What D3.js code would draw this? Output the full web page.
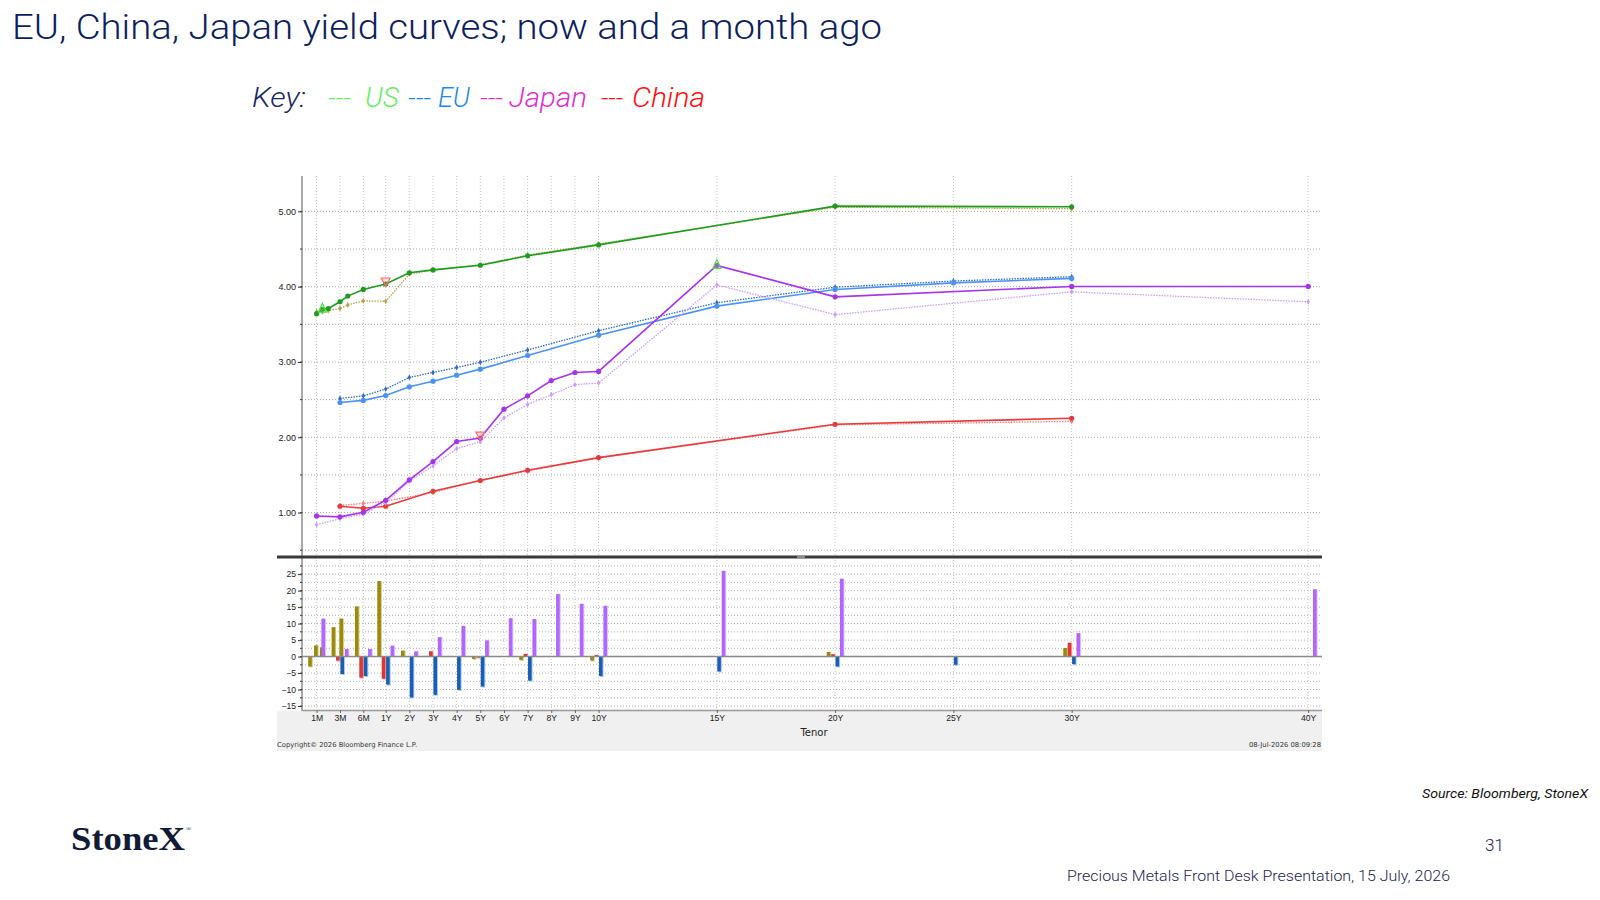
<!DOCTYPE html>
<html>
<head>
<meta charset="utf-8">
<script src="https://cdnjs.cloudflare.com/ajax/libs/d3/7.8.5/d3.min.js"></script>
<style>
body { margin: 0; background: #fff; }
svg { display: block; }
</style>
</head>
<body>
<script>
//tenor labels and yields (now / a month ago), change in bp
var usTenors = ["1M","1.5M","2M","3M","4M","6M","1Y","2Y","3Y","5Y","7Y","10Y","20Y","30Y"];
var usNow = [3.64,3.70,3.71,3.80,3.875,3.963,4.036,4.185,4.223,4.285,4.41,4.555,5.07,5.061];
var usAgo = [3.67,3.666,3.682,3.711,3.758,3.811,3.806,4.167,4.221,4.291,4.42,4.567,5.056,5.035];
var usChg = [-3,3.4,2.8,8.9,11.5,15.2,22.9,1.8,0.2,-0.7,-1.0,-1.2,1.4,2.6];

var euTenors = ["3M","6M","1Y","2Y","3Y","4Y","5Y","7Y","10Y","15Y","20Y","25Y","30Y"];
var euNow = [2.462,2.49,2.555,2.67,2.745,2.825,2.905,3.086,3.356,3.742,3.963,4.05,4.11];
var euAgo = [2.515,2.55,2.64,2.795,2.861,2.926,2.996,3.159,3.415,3.787,3.993,4.075,4.133];
var euChg = [-5.3,-5.9,-8.5,-12.4,-11.6,-10.1,-9.1,-7.3,-5.9,-4.5,-3.0,-2.5,-2.3];

var jpTenors = ["1M","3M","6M","1Y","2Y","3Y","4Y","5Y","6Y","7Y","8Y","9Y","10Y","15Y","20Y","30Y","40Y"];
var jpNow = [0.955,0.943,1.004,1.163,1.434,1.678,1.943,1.99,2.373,2.55,2.754,2.86,2.874,4.283,3.865,4.003,4.003];
var jpAgo = [0.838,0.92,0.981,1.13,1.418,1.619,1.849,1.941,2.257,2.436,2.564,2.70,2.72,4.023,3.629,3.932,3.799];
var jpChg = [11.5,2.3,2.3,3.3,1.6,5.9,9.3,4.9,11.6,11.4,19.0,16.0,15.4,26.0,23.6,7.1,20.4];

var cnTenors = ["3M","6M","1Y","3Y","5Y","7Y","10Y","20Y","30Y"];
var cnNow = [1.084,1.057,1.084,1.283,1.425,1.562,1.73,2.173,2.253];
var cnAgo = [1.096,1.121,1.151,1.267,1.428,1.554,1.725,2.166,2.211];
var cnChg = [-1.2,-6.4,-6.7,1.6,-0.3,0.8,0.5,0.7,4.2];

//axis ticks
var tenorTicks = ["1M","3M","6M","1Y","2Y","3Y","4Y","5Y","6Y","7Y","8Y","9Y","10Y","15Y","20Y","25Y","30Y","40Y"];
var yieldTicks = [1, 2, 3, 4, 5];
var chgTicks = [-15, -10, -5, 0, 5, 10, 15, 20, 25];

//bloomberg highlight markers
var flags = [
    {series: "US", tenor: "1.5M", dir: "up"},
    {series: "US", tenor: "1Y", dir: "down"},
    {series: "Japan", tenor: "5Y", dir: "down"},
    {series: "Japan", tenor: "15Y", dir: "up"}
];

var navy = "#0d1f5c";

var svg = d3.select("body")
    .append("svg")
    .attr("width", 1600)
    .attr("height", 900);

//years from a tenor label
function years(t) {
    var n = parseFloat(t);
    return t.slice(-1) === "M" ? n / 12 : n;
}

//front end spaced evenly, then linear in years
var x = d3.scaleLinear()
    .domain([1/12, 0.25, 0.5, 1, 40])
    .range([316.6, 340, 363.3, 385.7, 1308.2]);

var y = d3.scaleLinear().domain([0.41, 5.47]).range([557, 176]);
var yc = d3.scaleLinear().domain([-16.2, 30.2]).range([710, 557]);

var left = 302, right = 1322;

var series = [
    {name: "US", tenors: usTenors, now: usNow, ago: usAgo, chg: usChg,
     cNow: "#1f9c1f", cAgo: "#b3a246", bar: "#9a8a0c", barHi: "#d6cf8c", off: -6.6},
    {name: "China", tenors: cnTenors, now: cnNow, ago: cnAgo, chg: cnChg,
     cNow: "#e63b3b", cAgo: "#f27c7c", bar: "#e03535", barHi: "#f5a5a5", off: -2.2},
    {name: "EU", tenors: euTenors, now: euNow, ago: euAgo, chg: euChg,
     cNow: "#4b93f3", cAgo: "#2d6cc2", bar: "#1a5eb2", barHi: "#a9c9f0", off: 2.2},
    {name: "Japan", tenors: jpTenors, now: jpNow, ago: jpAgo, chg: jpChg,
     cNow: "#a733ea", cAgo: "#cb9cff", bar: "#b266fb", barHi: "#dcc2ff", off: 6.6}
];

//slide title and key
svg.append("text")
    .attr("x", 12).attr("y", 39)
    .attr("textLength", 870).attr("lengthAdjust", "spacingAndGlyphs")
    .style("font-family", "Roboto, sans-serif").style("font-size", "35px")
    .style("font-weight", 300)
    .style("fill", navy)
    .text("EU, China, Japan yield curves; now and a month ago");

var keyItems = [
    {t: "Key:", x: 252, w: 54, c: "#1b2a62"},
    {t: "---", x: 328, w: 23, c: "#66ee66"},
    {t: "US", x: 365, w: 34, c: "#66ee66"},
    {t: "---", x: 408, w: 23, c: "#1e88f0"},
    {t: "EU", x: 438, w: 32, c: "#1e88f0"},
    {t: "---", x: 480, w: 23, c: "#e030d0"},
    {t: "Japan", x: 509, w: 78, c: "#e030d0"},
    {t: "---", x: 601, w: 22, c: "#ff1010"},
    {t: "China", x: 632, w: 73, c: "#ff1010"}
];
svg.selectAll(".key")
    .data(keyItems)
    .enter()
    .append("text")
    .attr("class", "key")
    .attr("x", function(d) { return d.x; })
    .attr("y", 107)
    .attr("textLength", function(d) { return d.w; })
    .attr("lengthAdjust", "spacingAndGlyphs")
    .style("font-family", "Roboto, sans-serif").style("font-size", "28px")
    .style("font-style", "italic").style("font-weight", 300)
    .style("fill", function(d) { return d.c; })
    .text(function(d) { return d.t; });

//chart frame
var chart = svg.append("g").style("font-family", "'DejaVu Sans', sans-serif");

chart.append("rect")
    .attr("x", 277).attr("y", 711).attr("width", right - 277).attr("height", 40)
    .attr("fill", "#f0f0f0");

//vertical grid at tenor ticks
chart.selectAll(".vgrid")
    .data(tenorTicks)
    .enter()
    .append("line")
    .attr("x1", function(d) { return x(years(d)); })
    .attr("x2", function(d) { return x(years(d)); })
    .attr("y1", 176).attr("y2", 710)
    .attr("stroke", "#c4c4c4").attr("stroke-width", 1)
    .attr("stroke-dasharray", "1,2");

//horizontal grid, top and bottom panels
chart.selectAll(".hgrid")
    .data(d3.range(0.5, 5.01, 0.5))
    .enter()
    .append("line")
    .attr("x1", left).attr("x2", right)
    .attr("y1", function(d) { return y(d); })
    .attr("y2", function(d) { return y(d); })
    .attr("stroke", "#a8a8a8").attr("stroke-dasharray", "1,2");

chart.selectAll(".cgrid")
    .data(d3.range(-15, 27.6, 2.5))
    .enter()
    .append("line")
    .attr("x1", left).attr("x2", right)
    .attr("y1", function(d) { return yc(d); })
    .attr("y2", function(d) { return yc(d); })
    .attr("stroke", "#b0b0b0").attr("stroke-dasharray", "1,2");

//axes
var yAxis = chart.append("g")
    .attr("transform", "translate(" + left + ",0)")
    .call(d3.axisLeft(y).tickValues(yieldTicks).tickFormat(d3.format(".2f")).tickSize(4).tickPadding(2));
yAxis.select(".domain").remove();
yAxis.selectAll("line").attr("stroke", "#333");
yAxis.selectAll("text").style("font-size", "9px").style("fill", "#222");

chart.selectAll(".ytickm")
    .data(d3.range(0.5, 5.01, 0.5))
    .enter()
    .append("line")
    .attr("x1", left - 2).attr("x2", left)
    .attr("y1", function(d) { return y(d); })
    .attr("y2", function(d) { return y(d); })
    .attr("stroke", "#333");

var cAxis = chart.append("g")
    .attr("transform", "translate(" + left + ",0)")
    .call(d3.axisLeft(yc).tickValues(chgTicks).tickSize(4).tickPadding(2));
cAxis.select(".domain").remove();
cAxis.selectAll("line").attr("stroke", "#333");
cAxis.selectAll("text").style("font-size", "8.6px").style("fill", "#222");

chart.selectAll(".ctickm")
    .data(d3.range(-15, 27.6, 2.5))
    .enter()
    .append("line")
    .attr("x1", left - 2).attr("x2", left)
    .attr("y1", function(d) { return yc(d); })
    .attr("y2", function(d) { return yc(d); })
    .attr("stroke", "#333");

chart.append("line")
    .attr("x1", left).attr("x2", left).attr("y1", 176).attr("y2", 711)
    .attr("stroke", "#555");

var xAxis = chart.append("g")
    .attr("transform", "translate(0,710)")
    .call(d3.axisBottom(x)
        .tickValues(tenorTicks.map(years))
        .tickFormat(function(d, i) { return tenorTicks[i]; })
        .tickSize(3).tickPadding(2));
xAxis.select(".domain").attr("d", "M" + left + ",0.5H" + right).attr("stroke", "#999").attr("stroke-width", 1.5);
xAxis.selectAll("line").attr("stroke", "#666");
xAxis.selectAll("text").style("font-size", "8.6px").style("fill", "#222");

chart.append("text")
    .attr("x", 814).attr("y", 736).attr("text-anchor", "middle")
    .style("font-size", "10px").style("fill", "#222")
    .text("Tenor");

chart.append("text")
    .attr("x", 277).attr("y", 747)
    .style("font-size", "6.8px").style("fill", "#333")
    .text("Copyright\u00a9 2026 Bloomberg Finance L.P.");

chart.append("text")
    .attr("x", 1321).attr("y", 747).attr("text-anchor", "end")
    .style("font-size", "6.8px").style("fill", "#333")
    .text("08-Jul-2026 08:09:28");

//change bars (bp), with a light edge like the terminal draws
series.forEach(function(s) {
    var g = chart.append("g");
    var bars = s.tenors.map(function(t, i) { return {t: t, v: s.chg[i]}; });
    var bw = 3.6;
    g.selectAll(".hi")
        .data(bars)
        .enter()
        .append("rect")
        .attr("x", function(d) { return x(years(d.t)) + s.off - bw / 2 + 1; })
        .attr("y", function(d) { return d.v >= 0 ? yc(d.v) : yc(0); })
        .attr("width", bw)
        .attr("height", function(d) { return Math.abs(yc(d.v) - yc(0)) + (d.v < 0 ? 1 : 0); })
        .attr("fill", s.barHi);
    g.selectAll(".bar")
        .data(bars)
        .enter()
        .append("rect")
        .attr("x", function(d) { return x(years(d.t)) + s.off - bw / 2; })
        .attr("y", function(d) { return d.v >= 0 ? yc(d.v) : yc(0); })
        .attr("width", bw)
        .attr("height", function(d) { return Math.abs(yc(d.v) - yc(0)); })
        .attr("fill", s.bar);
});

//zero line
chart.append("line")
    .attr("x1", left).attr("x2", right).attr("y1", yc(0)).attr("y2", yc(0))
    .attr("stroke", "#8a8a8a").attr("stroke-width", 1.5);

//panel splitter
chart.append("rect")
    .attr("x", 277).attr("y", 555.5).attr("width", right - 277).attr("height", 3)
    .attr("fill", "#3a3a3a");
chart.append("rect")
    .attr("x", 797).attr("y", 556).attr("width", 8).attr("height", 2)
    .attr("fill", "#8a8a8a");

//yield curves: month ago dotted, now solid
var line = d3.line()
    .x(function(d) { return x(years(d.t)); })
    .y(function(d) { return y(d.v); });

series.forEach(function(s) {
    var ago = s.tenors.map(function(t, i) { return {t: t, v: s.ago[i]}; });
    var now = s.tenors.map(function(t, i) { return {t: t, v: s.now[i]}; });
    var g = chart.append("g");

    g.append("path")
        .datum(ago)
        .attr("d", line)
        .attr("fill", "none")
        .attr("stroke", s.cAgo)
        .attr("stroke-width", 1.3)
        .attr("stroke-dasharray", "1.5,1.2");
    g.selectAll(".ma")
        .data(ago)
        .enter()
        .append("path")
        .attr("d", d3.symbol().type(d3.symbolDiamond).size(10))
        .attr("transform", function(d) { return "translate(" + x(years(d.t)) + "," + y(d.v) + ")"; })
        .attr("fill", s.cAgo);

    g.append("path")
        .datum(now)
        .attr("d", line)
        .attr("fill", "none")
        .attr("stroke", s.cNow)
        .attr("stroke-width", 1.6);
    g.selectAll(".mn")
        .data(now)
        .enter()
        .append("circle")
        .attr("cx", function(d) { return x(years(d.t)); })
        .attr("cy", function(d) { return y(d.v); })
        .attr("r", 2.6)
        .attr("fill", s.cNow);
});

//highlight triangles
flags.forEach(function(f) {
    var s = series.filter(function(d) { return d.name === f.series; })[0];
    var i = s.tenors.indexOf(f.tenor);
    var px = x(years(f.tenor)), py = y(s.now[i]);
    var pts = f.dir === "up"
        ? [[px, py - 6], [px - 4, py + 3], [px + 4, py + 3]]
        : [[px - 4.5, py - 6], [px + 4.5, py - 6], [px, py + 2]];
    chart.append("path")
        .attr("d", "M" + pts.join("L") + "Z")
        .attr("fill", f.dir === "up" ? "rgba(120,240,120,0.25)" : "rgba(255,140,140,0.25)")
        .attr("stroke", f.dir === "up" ? "#4ddd4d" : "#ff6b6b")
        .attr("stroke-width", 1.2);
});

//footer
svg.append("text")
    .attr("x", 1588).attr("y", 798).attr("text-anchor", "end")
    .attr("textLength", 166).attr("lengthAdjust", "spacingAndGlyphs")
    .style("font-family", "Roboto, sans-serif").style("font-size", "12.5px")
    .style("font-style", "italic").style("fill", "#111")
    .text("Source: Bloomberg, StoneX");

svg.append("text")
    .attr("x", 71).attr("y", 850)
    .attr("textLength", 114).attr("lengthAdjust", "spacingAndGlyphs")
    .style("font-family", "'Liberation Serif', serif").style("font-size", "34px")
    .style("font-weight", "bold").style("fill", "#121a36")
    .text("StoneX");
svg.append("text")
    .attr("x", 186).attr("y", 831)
    .style("font-family", "'Liberation Serif', serif").style("font-size", "7px")
    .style("fill", "#121a36")
    .text("\u00ae");

svg.append("text")
    .attr("x", 1485).attr("y", 851)
    .style("font-family", "Roboto, sans-serif").style("font-size", "17px")
    .style("font-weight", 300)
    .style("fill", "#1a2350")
    .text("31");

svg.append("text")
    .attr("x", 1067).attr("y", 881)
    .attr("textLength", 383).attr("lengthAdjust", "spacingAndGlyphs")
    .style("font-family", "Roboto, sans-serif").style("font-size", "15px")
    .style("font-weight", 300)
    .style("fill", "#1a2350")
    .text("Precious Metals Front Desk Presentation, 15 July, 2026");
</script>
</body>
</html>
